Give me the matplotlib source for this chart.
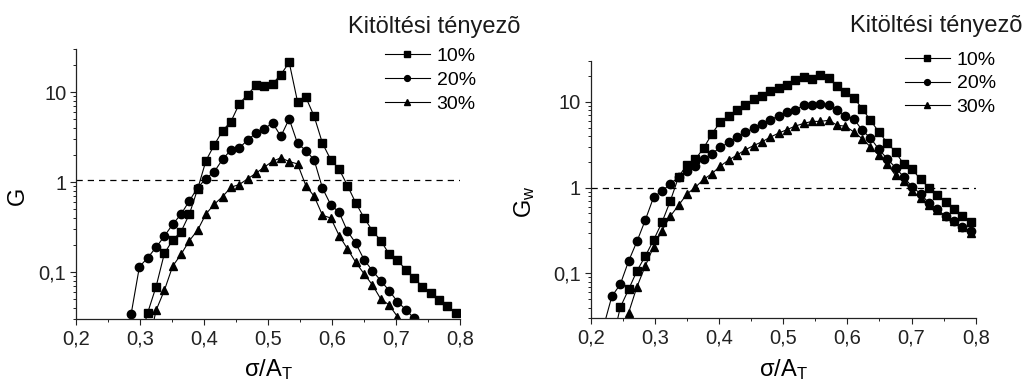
import matplotlib
matplotlib.use("Agg")
import matplotlib.pyplot as plt
from matplotlib.lines import Line2D
from matplotlib.ticker import FixedLocator, MultipleLocator, LogLocator, NullFormatter

plt.rcParams['font.family'] = ['Liberation Sans', 'DejaVu Sans']
plt.rcParams['mathtext.fontset'] = 'custom'
plt.rcParams['mathtext.rm'] = 'Liberation Sans'
plt.rcParams['mathtext.it'] = 'Liberation Sans:italic'

# sigma/A_T grid, left panel (G)
x_left = [0.286, 0.299, 0.312, 0.325, 0.338, 0.351, 0.364, 0.377, 0.390, 0.403,
          0.416, 0.429, 0.442, 0.455, 0.468, 0.481, 0.494, 0.507, 0.520, 0.533,
          0.546, 0.559, 0.572, 0.585, 0.598, 0.611, 0.624, 0.637, 0.650, 0.663,
          0.676, 0.689, 0.702, 0.715, 0.728, 0.741, 0.754, 0.767, 0.780, 0.793]

g_10 = [0.017, 0.0356, 0.069, 0.162, 0.228, 0.282, 0.441, 0.843, 1.74, 2.60,
        3.75, 4.72, 7.43, 9.43, 11.9, 11.7, 12.4, 15.7, 21.5, 7.88,
        8.80, 5.41, 2.71, 1.78, 1.40, 0.919, 0.590, 0.402, 0.290, 0.225,
        0.160, 0.138, 0.106, 0.0867, 0.0694, 0.0585, 0.0497, 0.0419, 0.035]
g_20 = [0.0341, 0.115, 0.145, 0.189, 0.252, 0.341, 0.441, 0.621, 0.87, 1.10,
        1.31, 1.80, 2.29, 2.39, 2.96, 3.50, 3.92, 4.57, 3.24, 5.06,
        2.71, 2.25, 1.77, 0.86, 0.561, 0.464, 0.286, 0.210, 0.138, 0.104,
        0.0809, 0.0626, 0.0473, 0.0385, 0.0308]
g_30 = [0.014,
        0.0377, 0.063, 0.117, 0.158, 0.224, 0.294, 0.445, 0.570, 0.693, 0.881,
        0.943, 1.09, 1.26, 1.47, 1.71, 1.87, 1.70, 1.60, 0.919, 0.699,
        0.430, 0.400, 0.256, 0.182, 0.129, 0.096, 0.0724, 0.0506, 0.0434, 0.0322]

# sigma/A_T grid, right panel (G_w)
x_right = [0.220, 0.233, 0.246, 0.259, 0.272, 0.285, 0.298, 0.311, 0.324, 0.337,
           0.350, 0.363, 0.376, 0.389, 0.402, 0.415, 0.428, 0.441, 0.454, 0.467,
           0.480, 0.493, 0.506, 0.519, 0.532, 0.545, 0.558, 0.571, 0.584, 0.597,
           0.610, 0.623, 0.636, 0.649, 0.662, 0.675, 0.688, 0.701, 0.714, 0.727,
           0.740, 0.753, 0.766, 0.779, 0.792]

gw_10 = [0.015, 0.0401, 0.065, 0.107, 0.159, 0.245, 0.394, 0.699, 1.34, 1.86,
         2.14, 2.90, 4.25, 5.87, 6.90, 8.1, 9.2, 10.7, 11.85, 13.3,
         14.7, 15.75, 17.85, 19.7, 18.6, 20.4, 19.1, 15.2, 13.1, 11.2,
         8.36, 6.1, 4.47, 3.35, 2.61, 1.87, 1.64, 1.25, 1.0, 0.828,
         0.674, 0.558, 0.463, 0.397]
gw_20 = [0.024, 0.0543, 0.0744, 0.139, 0.236, 0.418, 0.775, 0.915, 1.10, 1.34,
         1.57, 1.81, 2.15, 2.50, 2.95, 3.37, 3.92, 4.41, 4.95, 5.49,
         6.2, 6.87, 7.56, 8.04, 9.2, 9.1, 9.5, 9.31, 8.0, 6.87,
         6.38, 4.67, 3.80, 2.80, 2.18, 1.71, 1.33, 1.02, 0.851, 0.662,
         0.558, 0.467, 0.408, 0.348, 0.312]
gw_30 = [0.017,
         0.0347, 0.0697, 0.122, 0.205, 0.316, 0.465, 0.625, 0.844, 1.01, 1.25,
         1.46, 1.79, 2.10, 2.40, 2.77, 3.10, 3.43, 3.89, 4.33, 4.76,
         5.23, 5.62, 5.93, 5.93, 6.1, 5.35, 5.20, 4.47, 3.73, 2.99,
         2.38, 1.91, 1.39, 1.19, 0.906, 0.764, 0.622, 0.543, 0.463, 0.408,
         0.348, 0.299]

labels = ['10%', '20%', '30%']
markers = ['s', 'o', '^']
threshold_left = 1.05
threshold_right = 1.0

xticks = [0.2, 0.3, 0.4, 0.5, 0.6, 0.7, 0.8]
xticklabels = ['0,2', '0,3', '0,4', '0,5', '0,6', '0,7', '0,8']
yticks = [0.1, 1, 10]
yticklabels = ['0,1', '1', '10']

fig = plt.figure(figsize=(10.36, 3.8), dpi=100)
ax1 = fig.add_axes([0.0734, 0.1597, 0.3707, 0.7105])
ax2 = fig.add_axes([0.5702, 0.1624, 0.3716, 0.6771])


def style_axes(ax, ylabel):
    ax.set_yscale('log')
    ax.set_xlim(0.2, 0.8)
    ax.set_ylim(0.03, 30)
    for side in ('top', 'right'):
        ax.spines[side].set_visible(False)
    for side in ('left', 'bottom'):
        ax.spines[side].set_linewidth(0.9)
        ax.spines[side].set_color('#222222')
    ax.xaxis.set_major_locator(FixedLocator(xticks))
    ax.set_xticklabels(xticklabels)
    ax.xaxis.set_minor_locator(MultipleLocator(0.05))
    ax.yaxis.set_major_locator(FixedLocator(yticks))
    ax.set_yticklabels(yticklabels)
    ax.yaxis.set_minor_locator(LogLocator(base=10, subs=range(2, 10)))
    ax.yaxis.set_minor_formatter(NullFormatter())
    ax.tick_params(which='major', direction='out', length=4, width=0.8,
                   labelsize=14.5, pad=3, color='#222222', labelcolor='#222222')
    ax.tick_params(which='minor', direction='out', length=2.5, width=0.7,
                   color='#222222')
    ax.set_xlabel('σ/A$_{\\mathrm{T}}$', fontsize=17)
    ax.set_ylabel(ylabel, fontsize=17)


style_axes(ax1, 'G')
style_axes(ax2, 'G$_{\\mathrm{w}}$')

line_kw = dict(color='black', lw=0.8, markersize=6)
ax1.plot(x_left[1:], g_10, marker='s', **line_kw)
ax1.plot(x_left[:35], g_20, marker='o', **line_kw)
ax1.plot(x_left[2:33], g_30, marker='^', **line_kw)
ax1.axhline(threshold_left, color='black', lw=0.9, ls=(0, (5, 4)))

ax2.plot(x_right[1:], gw_10, marker='s', **line_kw)
ax2.plot(x_right, gw_20, marker='o', **line_kw)
ax2.plot(x_right[2:], gw_30, marker='^', **line_kw)
ax2.axhline(threshold_right, color='black', lw=0.9, ls=(0, (5, 4)))

ax1.xaxis.set_label_coords(0.5, -0.14)
ax1.yaxis.set_label_coords(-0.122, 0.457)
ax2.xaxis.set_label_coords(0.5, -0.15)
ax2.yaxis.set_label_coords(-0.139, 0.452)

# legends: title as free text, entries below it
handles = [Line2D([], [], color='black', lw=0.8, marker=m, markersize=4.2)
           for m in markers]
for ax, tx, ty, lx, ly in [(ax1, 0.336, 0.913, 0.3716, 0.875),
                           (ax2, 0.8205, 0.917, 0.8736, 0.866)]:
    fig.text(tx, ty, 'Kitöltési tényezõ', fontsize=17, ha='left',
             va='baseline', color='#1a1a1a')
    ax.legend(handles, labels, loc='upper left', bbox_to_anchor=(lx, ly),
              bbox_transform=fig.transFigure, frameon=False, fontsize=14,
              handlelength=2.3, handletextpad=0.35, labelspacing=0.32,
              borderpad=0, borderaxespad=0)

fig.savefig('out.png', dpi=100)
